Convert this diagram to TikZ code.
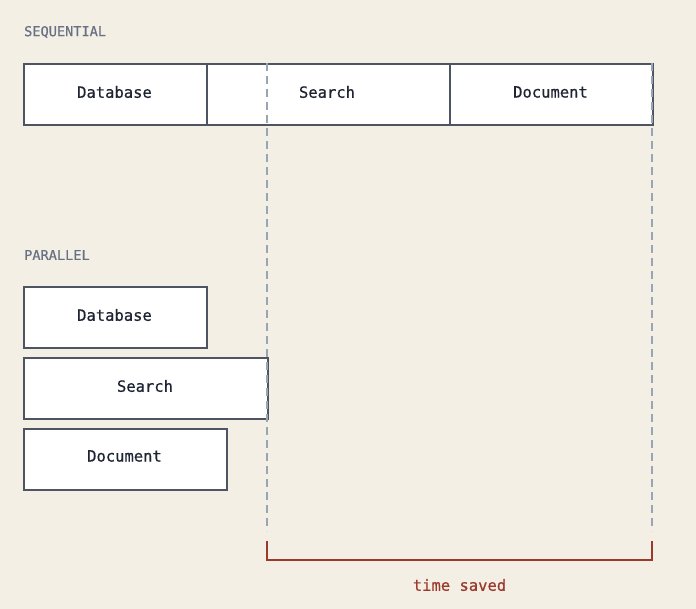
\documentclass[tikz,border=0pt]{standalone}
\usepackage{fontspec}
\setmonofont{DejaVu Sans Mono}
\newfontfamily\monomed[FakeBold=0.6]{DejaVu Sans Mono}
\begin{document}
\begin{tikzpicture}[x=1pt,y=-1pt,
  task/.style={draw=boxline,fill=white,line width=1.7pt,anchor=north west,inner sep=0pt,font=\monomed\fontsize{15.5}{17}\selectfont,text=ink,text depth=1pt},
  tasktext/.style={font=\monomed\fontsize{15.5}{17}\selectfont,text=ink,inner sep=0pt},
  sect/.style={anchor=west,font=\monomed\fontsize{13.6}{15}\selectfont,text=labelc,inner sep=0pt},
  guide/.style={draw=dashc,line width=1.2pt,dash pattern=on 8pt off 5pt},
  bracket/.style={draw=savedc,line width=1.2pt}]
\definecolor{bg}{HTML}{F4EFE5}
\definecolor{boxline}{HTML}{4E5462}
\definecolor{ink}{HTML}{1E2433}
\definecolor{labelc}{HTML}{687183}
\definecolor{dashc}{HTML}{97A5B5}
\definecolor{savedc}{HTML}{9B3A2C}
\fill[bg] (0,0) rectangle (696,609);
\useasboundingbox (0,0) rectangle (696,609);
% section labels
\node[sect] (seqlbl) at (24,32) {SEQUENTIAL};
\node[sect] (parlbl) at (24,255) {PARALLEL};
% sequential
\node[task,minimum width=183pt,minimum height=61pt] (sdb) at (23,63) {};
\node[task,minimum width=243pt,minimum height=61pt] (ssr) at (206,63) {};
\node[task,minimum width=203pt,minimum height=61pt] (sdc) at (449,63) {};
\node[tasktext] (sdbt) at (114.5,92) {Database};
\node[tasktext] (ssrt) at (327,92) {Search};
\node[tasktext] (sdct) at (550.5,92) {Document};
% parallel
\node[task,minimum width=183pt,minimum height=61pt] (pdb) at (23,286) {};
\node[task,minimum width=244pt,minimum height=61pt] (psr) at (23,357) {};
\node[task,minimum width=203pt,minimum height=61pt] (pdc) at (23,428) {};
\node[tasktext] (pdbt) at (114.5,315) {Database};
\node[tasktext] (psrt) at (145,386) {Search};
\node[tasktext] (pdct) at (124.5,456) {Document};
% guides
\coordinate (g1t) at (267,63);
\coordinate (g1b) at (267,531);
\coordinate (g2t) at (652,63);
\coordinate (g2b) at (652,531);
\draw[guide] (g1t) -- (g1b);
\draw[guide] (g2t) -- (g2b);
% bracket
\coordinate (b1) at (267,541);
\coordinate (b2) at (267,560);
\coordinate (b3) at (652,560);
\coordinate (b4) at (652,541);
\draw[bracket] (b1) -- (b2) -- (b3) -- (b4);
\node[tasktext,text=savedc] (saved) at (459.5,585) {time saved};
\end{tikzpicture}
\end{document}
